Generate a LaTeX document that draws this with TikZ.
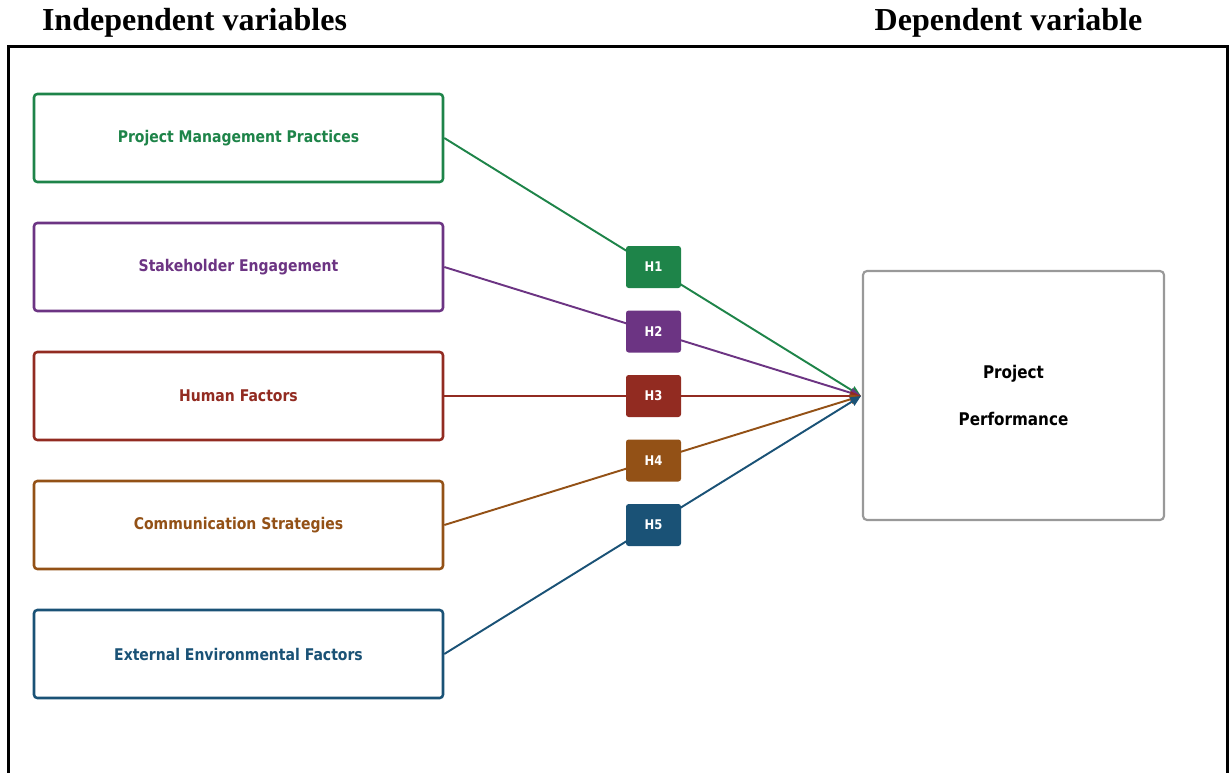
\documentclass[tikz,border=0pt]{standalone}
\usepackage{fontspec}
\usepackage{graphicx}
\setmainfont{Liberation Serif}
\newfontfamily\dv{DejaVu Sans}
\usetikzlibrary{arrows.meta}
\definecolor{cgreen}{HTML}{1E8449}
\definecolor{cpurple}{HTML}{6C3483}
\definecolor{cred}{HTML}{922B21}
\definecolor{corange}{HTML}{935116}
\definecolor{cblue}{HTML}{1A5276}
\definecolor{cgray}{HTML}{999999}
\newcommand{\tallt}[1]{\scalebox{1}[1.15]{#1}}
\tikzset{
  ivbox/.style={draw=#1, line width=1.9pt, rounded corners=2.5pt, minimum width=306.75pt, minimum height=66pt, text=#1, font=\dv\bfseries\fontsize{10.5}{12}\selectfont, fill=white},
  hbox/.style={fill=#1, rounded corners=2pt, minimum width=41.25pt, minimum height=31.5pt, text=white, font=\dv\bfseries\fontsize{8.7}{10}\selectfont, inner sep=0pt},
  dvbox/.style={draw=cgray, line width=1.6pt, rounded corners=3pt, minimum width=225.75pt, minimum height=186.75pt, font=\dv\bfseries\fontsize{11.4}{35}\selectfont, align=center, fill=white},
  link/.style={draw=#1, line width=1.45pt, -{Triangle[length=8pt,width=7pt]}},
  title/.style={font=\bfseries\fontsize{24}{28}\selectfont, anchor=base}
}
\begin{document}
\begin{tikzpicture}[x=0.75pt, y=-0.75pt]
\useasboundingbox (0,0) rectangle (1230,772);
\draw[line width=1.8pt] (8.5,780) -- (8.5,46.5) -- (1227.5,46.5) -- (1227.5,780);
\node[title] (tiv) at (194.5,30) {Independent variables};
\node[title] (tdv) at (1008.5,30) {Dependent variable};

\node[ivbox=cgreen]  (iv1) at (238.5,138) {\tallt{Project Management Practices}};
\node[ivbox=cpurple] (iv2) at (238.5,267) {\tallt{Stakeholder Engagement}};
\node[ivbox=cred]    (iv3) at (238.5,396) {\tallt{Human Factors}};
\node[ivbox=corange] (iv4) at (238.5,525) {\tallt{Communication Strategies}};
\node[ivbox=cblue]   (iv5) at (238.5,654) {\tallt{External Environmental Factors}};

\node[dvbox] (pp) at (1013.5,395.5) {\tallt{Project}\\\tallt{Performance}};
\coordinate (tgt) at (861,396);

\draw[link=cgreen]  (iv1.east) -- (tgt);
\draw[link=cpurple] (iv2.east) -- (tgt);
\draw[link=cred]    (iv3.east) -- (tgt);
\draw[link=corange] (iv4.east) -- (tgt);
\draw[link=cblue]   (iv5.east) -- (tgt);

\node[hbox=cgreen]  (h1) at (653.5,267) {\tallt{H1}};
\node[hbox=cpurple] (h2) at (653.5,331.5) {\tallt{H2}};
\node[hbox=cred]    (h3) at (653.5,396) {\tallt{H3}};
\node[hbox=corange] (h4) at (653.5,460.5) {\tallt{H4}};
\node[hbox=cblue]   (h5) at (653.5,525) {\tallt{H5}};
\end{tikzpicture}
\end{document}
